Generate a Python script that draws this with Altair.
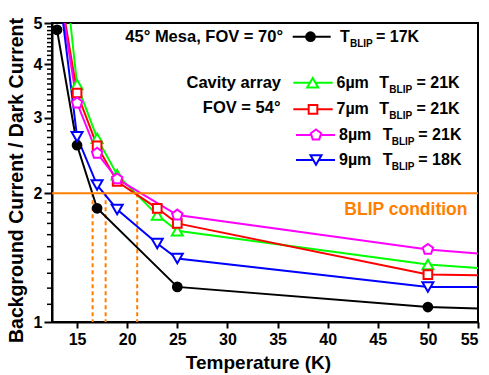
import altair as alt
import pandas as pd

# ---------------- data ----------------
T_MESA = [13, 15, 17, 25, 50, 55]
R_MESA = [4.82, 2.59, 1.844, 1.208, 1.084, 1.075]
T_6UM = [13, 15, 17, 19, 23, 25, 50, 55]
R_6UM = [9.8, 3.59, 2.69, 2.21, 1.778, 1.634, 1.363, 1.338]
T_7UM = [13, 15, 17, 19, 23, 25, 50, 55]
R_7UM = [6.56, 3.43, 2.58, 2.13, 1.844, 1.70, 1.291, 1.286]
T_8UM = [13, 15, 17, 19, 25, 50, 55]
R_8UM = [6.44, 3.25, 2.48, 2.16, 1.778, 1.478, 1.446]
T_9UM = [13, 15, 17, 19, 23, 25, 50, 55]
R_9UM = [6.55, 2.71, 2.09, 1.833, 1.526, 1.408, 1.208, 1.208]
MARKER_MAX_T = 50          # markers up to 50 K, lines run on to the frame

BLIP_LEVEL = [2]
BLIP_T = [16.55, 17.85, 21.0]

X_TICKS = [15, 20, 25, 30, 35, 40, 45, 50, 55]
Y_TICKS = [1, 2, 3, 4, 5]
Y_MINOR = [1.1, 1.2, 1.3, 1.4, 1.5, 1.6, 1.7, 1.8, 1.9,
           2.1, 2.2, 2.3, 2.4, 2.5, 2.6, 2.7, 2.8, 2.9,
           3.1, 3.2, 3.3, 3.4, 3.5, 3.6, 3.7, 3.8, 3.9,
           4.1, 4.2, 4.3, 4.4, 4.5, 4.6, 4.7, 4.8, 4.9]

PENTAGON = "M0,-1L0.951,-0.309L0.588,0.809L-0.588,0.809L-0.951,-0.309Z"

SERIES = [
    # name, T, R, color, shape, size, filled
    ("mesa", T_MESA, R_MESA, "#000000", "circle", 115, True),
    ("6um", T_6UM, R_6UM, "#00FF00", "triangle-up", 120, False),
    ("7um", T_7UM, R_7UM, "#FF0000", "square", 75, False),
    ("8um", T_8UM, R_8UM, "#FF00FF", PENTAGON, 120, False),
    ("9um", T_9UM, R_9UM, "#0000FF", "triangle-down", 120, False),
]

FONT = "Liberation Sans"
ORANGE = "#FF7F00"
W, H = 426, 299
PAD_L, PAD_T, PAD_R, PAD_B = 52, 23, 11, 53

xs = alt.Scale(domain=[12.5, 55], nice=False, zero=False)
ys = alt.Scale(type="log", domain=[1, 5], nice=False)

XAXIS = alt.Axis(
    values=X_TICKS, title="Temperature (K)", grid=False,
    labelFont=FONT, labelFontSize=16, labelFontWeight="bold", labelColor="black",
    labelPadding=3, tickSize=6, tickWidth=2, tickColor="black",
    domainColor="black", domainWidth=2,
    titleFont=FONT, titleFontSize=19, titleFontWeight="bold", titleColor="black",
    titleX=206, titleY=40, titleBaseline="middle", titleAlign="center")
YAXIS = alt.Axis(
    values=Y_TICKS, format="d", title="Background Current / Dark Current", grid=False,
    orient="left",
    labelFont=FONT, labelFontSize=16, labelFontWeight="bold", labelColor="black",
    labelPadding=2, tickSize=8, tickWidth=2, tickColor="black",
    domainColor="black", domainWidth=2,
    titleFont=FONT, titleFontSize=19.5, titleFontWeight="bold", titleColor="black",
    titleX=-36, titleY=157, titleAlign="center", titleBaseline="middle", titleAngle=270)


def X(field="T"):
    return alt.X(f"{field}:Q", scale=xs, axis=XAXIS)


def Y(field="R"):
    return alt.Y(f"{field}:Q", scale=ys, axis=YAXIS)


layers = []

# minor y ticks (short rules just outside the left frame, placed through the y scale)
minor_df = pd.DataFrame({"R": Y_MINOR})
layers.append(
    alt.Chart(minor_df).mark_rule(color="black", strokeWidth=1.5, clip=False).encode(
        y=Y("R"), x=alt.value(-5), x2=alt.value(0)
    )
)

# dashed BLIP temperature drops
drop_df = pd.DataFrame({"T": BLIP_T, "R": [BLIP_LEVEL[0]] * len(BLIP_T), "R2": [1] * len(BLIP_T)})
layers.append(
    alt.Chart(drop_df).mark_rule(color=ORANGE, strokeWidth=2, strokeDash=[4, 3]).encode(
        x=X("T"), y=Y("R"), y2="R2:Q",
    )
)

# series lines
for name, T, R, color, shape, size, filled in SERIES:
    df = pd.DataFrame({"T": T, "R": R})
    layers.append(
        alt.Chart(df).mark_line(color=color, strokeWidth=2, clip=True).encode(x=X(), y=Y())
    )

# BLIP condition line
layers.append(
    alt.Chart(pd.DataFrame({"R": BLIP_LEVEL})).mark_rule(color=ORANGE, strokeWidth=2).encode(y=Y())
)

# markers
for name, T, R, color, shape, size, filled in SERIES:
    df = pd.DataFrame({"T": T, "R": R})
    if filled:
        mk = alt.Chart(df).mark_point(shape=shape, size=size, filled=True, color=color,
                                      opacity=1, clip=True)
    else:
        mk = alt.Chart(df).mark_point(shape=shape, size=size, filled=True, fill="white",
                                      stroke=color, strokeWidth=2, opacity=1, clip=True)
    layers.append(mk.transform_filter(alt.datum.T <= MARKER_MAX_T).encode(x=X(), y=Y()))

# ---------------- annotations / legend ----------------
ONE = alt.Data(values=[{}])


def txt(s, x, y, size=16, color="black", align="left"):
    return alt.Chart(ONE).mark_text(
        text=s, font=FONT, fontSize=size, fontWeight="bold", color=color,
        align=align, baseline="middle").encode(
        x=alt.value(x - PAD_L), y=alt.value(y - PAD_T))


def leg_line(x1, x2, y, color):
    return alt.Chart(ONE).mark_rule(color=color, strokeWidth=2).encode(
        x=alt.value(x1 - PAD_L), x2=alt.value(x2 - PAD_L), y=alt.value(y - PAD_T))


def leg_marker(x, y, color, shape, size, filled):
    if filled:
        m = alt.Chart(ONE).mark_point(shape=shape, size=size, filled=True, color=color, opacity=1)
    else:
        m = alt.Chart(ONE).mark_point(shape=shape, size=size, filled=True, fill="white",
                                      stroke=color, strokeWidth=2, opacity=1)
    return m.encode(x=alt.value(x - PAD_L), y=alt.value(y - PAD_T))


layers.append(txt("45° Mesa, FOV = 70°", 283, 36.7, size=16.5, align="right"))
layers.append(txt("Cavity array", 281, 82.7, size=16.5, align="right"))
layers.append(txt("FOV = 54°", 280.5, 108.3, size=16.5, align="right"))
layers.append(txt("BLIP condition", 467.5, 210, size=17.5, color=ORANGE, align="right"))

LEGEND_ROWS = [
    # series index, y, line x1, x2, marker x, label, label x, T x, sub x, value x, value
    (0, 36.7, 292.7, 330.7, 310.5, "", 0, 340, 350, 376, "= 17K"),
    (1, 82.7, 293.3, 332.7, 312.7, "6µm", 336.5, 379.3, 389.3, 416.5, "= 21K"),
    (2, 109.3, 293.3, 332.7, 313.0, "7µm", 336.5, 379.3, 389.3, 416.5, "= 21K"),
    (3, 135.0, 296.0, 335.0, 316.0, "8µm", 339.0, 382.7, 391.7, 418.3, "= 21K"),
    (4, 160.0, 296.0, 335.0, 316.0, "9µm", 339.0, 382.7, 391.7, 418.3, "= 18K"),
]
for idx, y, x1, x2, mx, lab, lx, tx, sx, vx, val in LEGEND_ROWS:
    _, _, _, color, shape, size, filled = SERIES[idx]
    layers.append(leg_line(x1, x2, y, color))
    layers.append(leg_marker(mx, y, color, shape, size, filled))
    if lab:
        layers.append(txt(lab, lx, y))
    layers.append(txt("T", tx, y))
    layers.append(txt("BLIP", sx, y + 7, size=10))
    layers.append(txt(val, vx, y))

chart = alt.layer(*layers).properties(
    width=W, height=H,
    autosize=alt.AutoSizeParams(type="none"),
    padding={"left": PAD_L, "top": PAD_T, "right": PAD_R, "bottom": PAD_B},
    background="white",
).configure_view(stroke="black", strokeWidth=2)

chart.save("out.html", embed_options={"renderer": "svg", "actions": False})
